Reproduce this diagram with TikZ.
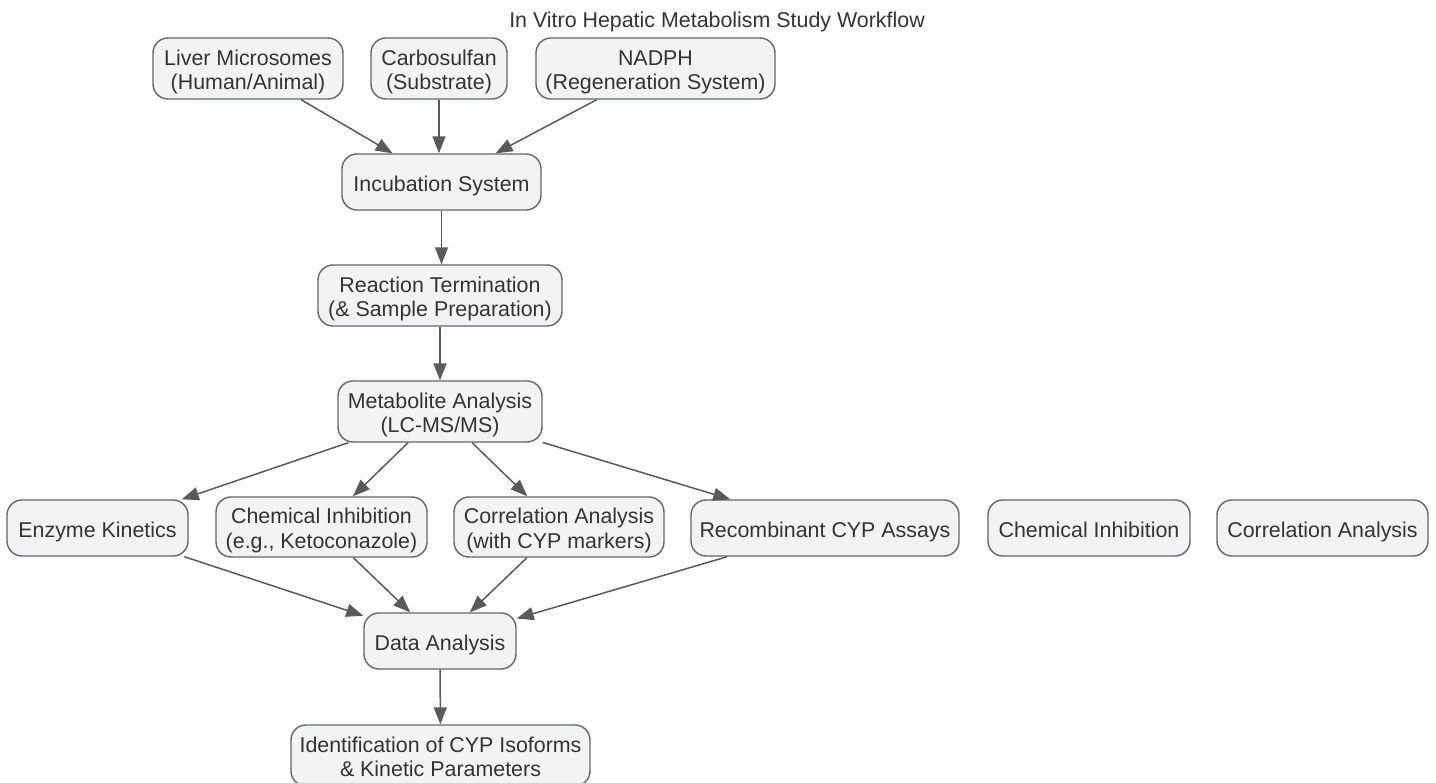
\documentclass[tikz,border=0pt]{standalone}
\usepackage{fontspec}
\setmainfont{Liberation Sans}
\usetikzlibrary{arrows.meta}
\definecolor{boxfill}{HTML}{F2F3F5}
\definecolor{boxline}{HTML}{666666}
\definecolor{edgecol}{HTML}{595A5E}
\definecolor{txt}{HTML}{333333}
\newcommand{\mline}[1]{\rule[-3.1pt]{0pt}{24.3pt}\smash{#1}}
\tikzset{
  box/.style={draw=boxline, line width=1.4pt, fill=boxfill, rounded corners=15pt,
    inner sep=0pt, align=center, text=txt,
    font=\fontsize{21.4}{24.3}\selectfont},
  conn/.style={draw=edgecol, line width=1.5pt, -{Triangle[length=17pt,width=13pt]}},
}
\begin{document}
\begin{tikzpicture}[x=1pt,y=-1pt]
\useasboundingbox (0,0) rectangle (1436,783);
\fill[white] (0,0) rectangle (1436,783);
\node[text=txt, inner sep=0pt, font=\fontsize{21.4}{24.3}\selectfont] (title) at (717,18.3) {\mline{In Vitro Hepatic Metabolism Study Workflow}};

\node[box, minimum width=190pt, minimum height=61pt] (liver) at (248,68.5) {\mline{Liver Microsomes}\\\mline{(Human/Animal)}};
\node[box, minimum width=136pt, minimum height=61pt] (carbo) at (439,68.5) {\mline{Carbosulfan}\\\mline{(Substrate)}};
\node[box, minimum width=239pt, minimum height=61pt] (nadph) at (655.5,68.5) {\mline{NADPH}\\\mline{(Regeneration System)}};
\node[box, minimum width=199pt, minimum height=56pt] (incub) at (441.5,182) {\mline{Incubation System}};
\node[box, minimum width=244pt, minimum height=61pt] (react) at (440,295.5) {\mline{Reaction Termination}\\\mline{(\& Sample Preparation)}};
\node[box, minimum width=204pt, minimum height=61pt] (metab) at (440,411.5) {\mline{Metabolite Analysis}\\\mline{(LC-MS/MS)}};
\node[box, minimum width=181pt, minimum height=56pt] (enzyme) at (97.5,528) {\mline{Enzyme Kinetics}};
\node[box, minimum width=211pt, minimum height=60pt] (chem1) at (321.5,527) {\mline{Chemical Inhibition}\\\mline{(e.g., Ketoconazole)}};
\node[box, minimum width=210pt, minimum height=60pt] (corr1) at (559,527) {\mline{Correlation Analysis}\\\mline{(with CYP markers)}};
\node[box, minimum width=268pt, minimum height=56pt] (recomb) at (825,528) {\mline{Recombinant CYP Assays}};
\node[box, minimum width=202pt, minimum height=56pt] (chem2) at (1089,528) {\mline{Chemical Inhibition}};
\node[box, minimum width=211pt, minimum height=56pt] (corr2) at (1322.5,528) {\mline{Correlation Analysis}};
\node[box, minimum width=152pt, minimum height=56pt] (data) at (440,641) {\mline{Data Analysis}};
\node[box, minimum width=299pt, minimum height=61pt] (ident) at (440.5,755.5) {\mline{Identification of CYP Isoforms}\\\mline{\& Kinetic Parameters}};

\draw[conn] (liver) -- (incub);
\draw[conn] (carbo.south) -- (carbo.south |- incub.north);
\draw[conn] (nadph) -- (incub);
\draw[conn] (incub.south) -- (incub.south |- react.north);
\draw[conn] (react) -- (metab);
\draw[conn] (metab) -- (enzyme);
\draw[conn] (metab) -- (chem1);
\draw[conn] (metab) -- (corr1);
\draw[conn] (metab) -- (recomb);
\draw[conn] (enzyme) -- (data);
\draw[conn] (chem1) -- (data);
\draw[conn] (corr1) -- (data);
\draw[conn] (recomb) -- (data);
\draw[conn] (data) -- (ident);
\end{tikzpicture}
\end{document}
